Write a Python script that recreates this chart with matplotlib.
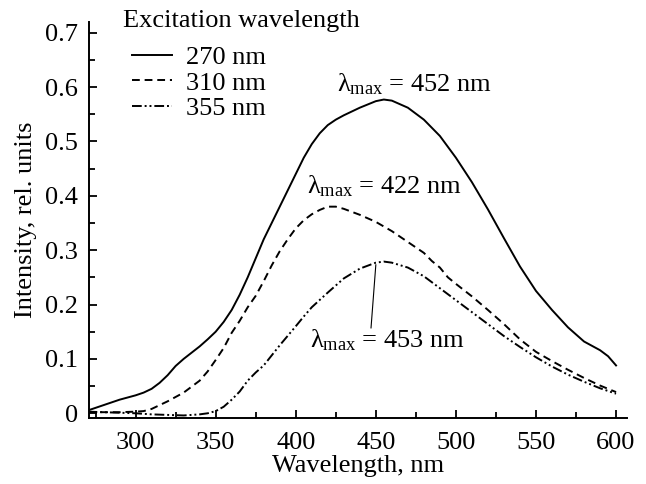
import numpy as np
import matplotlib
matplotlib.use('Agg')
import matplotlib.pyplot as plt
from matplotlib.ticker import MultipleLocator, FuncFormatter

plt.rcParams['font.family'] = 'Liberation Serif'
plt.rcParams['mathtext.fontset'] = 'custom'
plt.rcParams['mathtext.rm'] = 'Liberation Serif'

# emission spectra
wl_270 = [270, 280, 290, 300, 305, 310, 315, 320, 325, 330, 340, 345, 350, 355, 360,
          365, 370, 375, 380, 385, 390, 395, 400, 405, 410, 415, 420, 425, 430, 440,
          450, 455, 460, 470, 480, 490, 500, 510, 520, 530, 540, 550, 560, 570, 580,
          590, 595, 600]
int_270 = [0.005, 0.015, 0.025, 0.033, 0.038, 0.045, 0.056, 0.07, 0.087, 0.1, 0.123,
           0.136, 0.15, 0.168, 0.19, 0.218, 0.25, 0.285, 0.32, 0.35, 0.38, 0.41, 0.44,
           0.47, 0.495, 0.515, 0.53, 0.54, 0.548, 0.562, 0.574, 0.577, 0.575, 0.562,
           0.54, 0.51, 0.47, 0.425, 0.375, 0.322, 0.27, 0.225, 0.19, 0.158, 0.132,
           0.116, 0.105, 0.088]

wl_310 = [270, 280, 290, 300, 305, 310, 315, 320, 330, 340, 345, 350, 355, 360, 365,
          370, 375, 380, 385, 390, 395, 400, 405, 410, 415, 420, 425, 430, 440, 450,
          460, 470, 480, 485, 490, 495, 500, 510, 520, 530, 540, 550, 560, 570, 580,
          590, 600]
int_310 = [0.002, 0.002, 0.002, 0.003, 0.004, 0.008, 0.015, 0.022, 0.038, 0.06, 0.077,
           0.098, 0.12, 0.148, 0.17, 0.195, 0.216, 0.243, 0.272, 0.298, 0.32, 0.34,
           0.355, 0.366, 0.374, 0.38, 0.38, 0.376, 0.365, 0.352, 0.335, 0.315, 0.295,
           0.28, 0.268, 0.25, 0.238, 0.215, 0.19, 0.164, 0.136, 0.113, 0.096, 0.08,
           0.065, 0.051, 0.039]

wl_355 = [270, 280, 290, 300, 310, 320, 330, 340, 345, 350, 355, 360, 365, 370, 375,
          380, 390, 400, 405, 410, 420, 430, 440, 450, 455, 460, 470, 480, 490, 500,
          510, 520, 530, 540, 550, 560, 570, 580, 590, 600]
int_355 = [0.003, 0.002, 0.001, 0.0, -0.002, -0.003, -0.004, -0.002, 0.0, 0.004, 0.012,
           0.025, 0.04, 0.06, 0.075, 0.088, 0.125, 0.16, 0.178, 0.195, 0.222, 0.248,
           0.266, 0.277, 0.279, 0.277, 0.268, 0.252, 0.23, 0.208, 0.186, 0.164, 0.142,
           0.122, 0.103, 0.086, 0.071, 0.058, 0.046, 0.036]

labels = ['270 nm', '310 nm', '355 nm']
peaks = ['452', '422', '453']

fig = plt.figure(figsize=(6.46, 4.84), dpi=100)
ax = fig.add_axes([0.138, 0.136, 0.833, 0.819])

l1, = ax.plot(wl_270, int_270, color='black', lw=1.4, label=labels[0])
l2, = ax.plot(wl_310, int_310, color='black', lw=1.4, ls=(0, (4, 2.5)), label=labels[1])
l3, = ax.plot(wl_355, int_355, color='black', lw=1.4,
              ls=(0, (5, 1.5, 1, 1.5, 1, 1.5)), label=labels[2])

ax.set_xlim(271, 607)
ax.set_ylim(-0.009, 0.72)
ax.xaxis.set_major_locator(MultipleLocator(50))
ax.xaxis.set_minor_locator(MultipleLocator(25))
ax.yaxis.set_major_locator(MultipleLocator(0.1))
ax.yaxis.set_minor_locator(MultipleLocator(0.05))
ax.yaxis.set_major_formatter(FuncFormatter(lambda v, p: '0' if abs(v) < 1e-9 else '%.1f' % v))
ax.tick_params(which='major', direction='in', length=6, width=1.3, labelsize=19)
ax.tick_params(which='minor', direction='in', length=4, width=1.3)
ax.tick_params(axis='x', pad=10)
ax.tick_params(axis='y', pad=8)
for s in ['top', 'right']:
    ax.spines[s].set_visible(False)
for s in ['left', 'bottom']:
    ax.spines[s].set_linewidth(1.4)

ax.set_xlabel('Wavelength, nm', fontsize=19, labelpad=1)
ax.set_ylabel('Intensity, rel. units', fontsize=19, labelpad=6)

ax.text(426, 0.592, r'$\mathrm{λ_{max}}$ = %s nm' % peaks[0], fontsize=19, va='baseline')
ax.text(407, 0.405, r'$\mathrm{λ_{max}}$ = %s nm' % peaks[1], fontsize=19, va='baseline')
ax.text(409, 0.122, r'$\mathrm{λ_{max}}$ = %s nm' % peaks[2], fontsize=19, va='baseline')
ax.plot([450, 447], [0.273, 0.157], color='black', lw=0.8)

fig.text(123 / 646, 1 - 27 / 484, 'Excitation wavelength', fontsize=19, va='baseline', ha='left')
ax.legend(handles=[l1, l2, l3], loc='upper left', bbox_to_anchor=(0.08, 0.94),
          frameon=False, fontsize=19, handlelength=1.5, handletextpad=0.55,
          labelspacing=0.08, borderaxespad=0, borderpad=0)

fig.savefig('out.png', dpi=100)
